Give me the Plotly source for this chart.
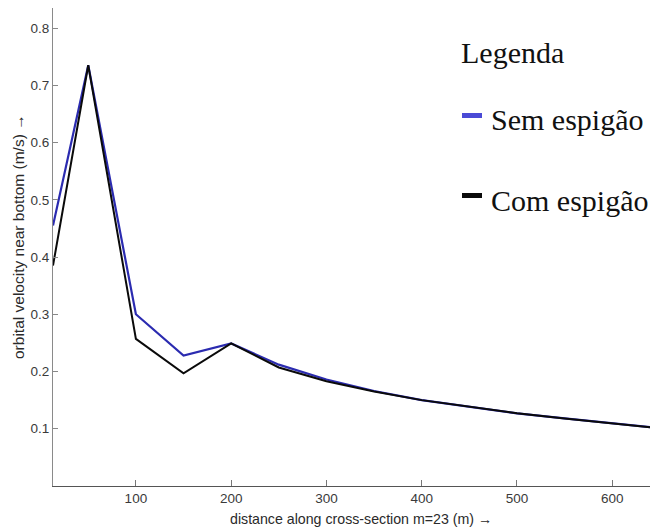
import plotly.graph_objects as go

# Data
distance = [13, 50, 100, 150, 200, 250, 300, 350, 400, 450, 500, 550, 600, 650]
sem_espigao = [0.455, 0.735, 0.300, 0.228, 0.249, 0.212, 0.186, 0.166, 0.150, 0.138, 0.127, 0.118, 0.109, 0.101]
com_espigao = [0.385, 0.735, 0.257, 0.197, 0.249, 0.207, 0.183, 0.165, 0.150, 0.138, 0.127, 0.118, 0.109, 0.101]
series_names = ["Sem espigão", "Com espigão"]
legend_title = "Legenda"
x_title = "distance along cross-section m=23 (m) \u2192"
y_title = "orbital velocity near bottom (m/s) \u2192"
x_ticks = [100, 200, 300, 400, 500, 600]
y_ticks = [0.1, 0.2, 0.3, 0.4, 0.5, 0.6, 0.7, 0.8]

# the page body adds an 8px margin; the figure is sized to fill the window
OFF = 8
W, H = 658 - OFF, 531 - OFF
ML, MR, MT, MB = 53 - OFF, 0, 0, 531 - 486
PW, PH = W - ML - MR, H - MT - MB


def px(x):
    return (x - OFF - ML) / PW


def py(y):
    return (H - MB - (y - OFF)) / PH


line_blue = "#2b2bb0"
legend_blue = "#4a4ad6"
line_black = "#0a0a0a"

fig = go.Figure()
fig.add_trace(go.Scatter(x=distance, y=sem_espigao, mode="lines", name=series_names[0],
                         line=dict(color=line_blue, width=2.2), showlegend=False))
fig.add_trace(go.Scatter(x=distance, y=com_espigao, mode="lines", name=series_names[1],
                         line=dict(color=line_black, width=2.0), showlegend=False))

axis_font = dict(family="Liberation Sans, Arial, sans-serif", size=13.5, color="#3a3a3a")

fig.update_layout(
    width=W, height=H,
    margin=dict(l=ML, r=MR, t=MT, b=MB, pad=0),
    paper_bgcolor="white", plot_bgcolor="white",
    showlegend=False,
    xaxis=dict(range=[13, 648], tickvals=x_ticks, ticks="inside", ticklen=6, tickcolor="#777",
               showline=True, linecolor="#555", linewidth=1.2, showgrid=False, zeroline=False,
               tickfont=axis_font),
    yaxis=dict(range=[0, 0.835], tickvals=y_ticks, ticktext=[f"{v:.1f}" for v in y_ticks],
               ticks="inside", ticklen=5, tickcolor="#888",
               showline=True, linecolor="#8a8a8a", linewidth=1.2, showgrid=False, zeroline=False,
               tickfont=axis_font),
)

fig.add_annotation(text=x_title, xref="paper", yref="paper", x=px(361), y=py(519),
                   xanchor="center", yanchor="middle", showarrow=False,
                   font=dict(family="Liberation Sans, Arial, sans-serif", size=14.2, color="#2a2a2a"))
fig.add_annotation(text=y_title, xref="paper", yref="paper", x=px(18), y=py(237),
                   xanchor="center", yanchor="middle", showarrow=False, textangle=-90,
                   font=dict(family="Liberation Sans, Arial, sans-serif", size=15.5, color="#2a2a2a"))

leg_font = dict(family="Liberation Serif, Times New Roman, serif", size=30, color="#111")
fig.add_annotation(text=legend_title, xref="paper", yref="paper", x=px(459), y=py(52),
                   xanchor="left", yanchor="middle", showarrow=False, font=leg_font)
fig.add_annotation(text=series_names[0], xref="paper", yref="paper", x=px(489), y=py(120),
                   xanchor="left", yanchor="middle", showarrow=False, font=leg_font)
fig.add_annotation(text=series_names[1], xref="paper", yref="paper", x=px(489), y=py(200),
                   xanchor="left", yanchor="middle", showarrow=False, font=leg_font)
fig.add_shape(type="line", xref="paper", yref="paper", x0=px(462), x1=px(482), y0=py(115.5), y1=py(115.5),
              line=dict(color=legend_blue, width=5))
fig.add_shape(type="line", xref="paper", yref="paper", x0=px(462), x1=px(482), y0=py(195.5), y1=py(195.5),
              line=dict(color=line_black, width=5))

fig.write_html("out.html")
